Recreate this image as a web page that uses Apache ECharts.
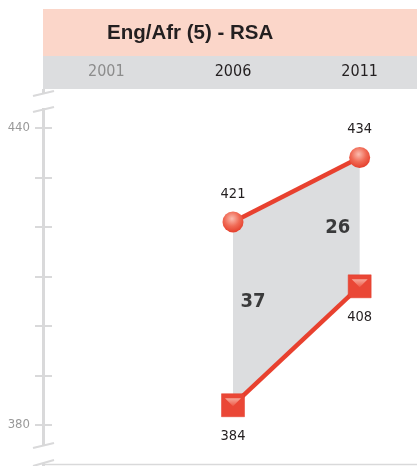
<!DOCTYPE html>
<html>
<head>
<meta charset="utf-8">
<script src="https://cdn.jsdelivr.net/npm/echarts@6/dist/echarts.min.js"></script>
<style>
html,body{margin:0;padding:0;background:#fff;overflow:hidden;width:417px;height:466px;}
#chart{width:423px;height:475px;}
</style>
</head>
<body>
<div id="chart"></div>
<script>
// ---- data ----
const title = 'Eng/Afr (5) - RSA';
const categories = ['2001', '2006', '2011'];
const topValues = [null, 421, 434];     // circles
const bottomValues = [null, 384, 408];  // squares
const yLabelValues = [380, 440];

// ---- derived ----
const gapValues = topValues.map((v, i) => (v == null || bottomValues[i] == null) ? null : v - bottomValues[i]);
const gapLabelPoints = [];
gapValues.forEach((g, i) => {
  if (g != null) gapLabelPoints.push([i, (topValues[i] + bottomValues[i]) / 2, g]);
});

const narrow = "'DejaVu Sans Condensed', 'Liberation Sans', sans-serif";
const dark = '#231f20';
const red = '#e8412f';
const axisGray = '#d9d9da';

const chart = echarts.init(document.getElementById('chart'), null, {renderer: 'canvas'});

const circleFill = {
  type: 'radial', x: 0.45, y: 0.35, r: 0.65,
  colorStops: [{offset: 0, color: '#fbbcaf'}, {offset: 0.55, color: '#f06a55'}, {offset: 1, color: '#e53f2c'}]
};
const triFill = {
  type: 'linear', x: 0, y: 0, x2: 0, y2: 1,
  colorStops: [{offset: 0, color: '#f9c0b3'}, {offset: 1, color: '#ef5c49'}]
};

const gapLabelOffsets = [[20, -12], [-22, 6]];

chart.setOption({
  animation: false,
  title: {
    text: title, left: 107, top: 22, padding: 0, z: 10,
    textStyle: {fontFamily: "'Liberation Sans', Arial, sans-serif", fontWeight: 'bold', fontSize: 20.5, lineHeight: 22, color: dark}
  },
  grid: {left: 43, right: 0, top: 78.2, bottom: 0.4},
  xAxis: {
    type: 'category', data: categories, position: 'top', boundaryGap: true, z: 10,
    axisLine: {show: false}, axisTick: {show: false}, splitLine: {show: false},
    axisLabel: {
      margin: 6, verticalAlign: 'middle', fontFamily: narrow, fontSize: 16,
      color: (v, i) => (i === 0 ? '#8c8c8c' : dark)
    }
  },
  yAxis: [
    {
      type: 'value', min: 370, max: 450, interval: 10, position: 'left', z: 0,
      axisLine: {show: true, lineStyle: {color: axisGray, width: 3}},
      axisTick: {show: true, inside: false, length: 8, lineStyle: {color: axisGray, width: 2}},
      splitLine: {show: false},
      axisLabel: {
        margin: 13, fontFamily: narrow, fontSize: 13, color: '#999999',
        formatter: v => (yLabelValues.indexOf(v) >= 0 ? String(v) : '')
      }
    },
    {
      type: 'value', min: 370, max: 450, interval: 10, position: 'left', z: 0,
      axisLine: {show: false},
      axisTick: {show: true, inside: true, length: 9, lineStyle: {color: axisGray, width: 2}},
      splitLine: {show: false},
      axisLabel: {show: false}
    }
  ],
  graphic: [
    // hide axis parts above the plot area
    {type: 'rect', z: 1, shape: {x: 26, y: 60, width: 18, height: 29}, style: {fill: '#fff'}},
    {type: 'rect', z: 3, shape: {x: 43, y: 9, width: 380, height: 47}, style: {fill: '#fbd6c9'}},
    {type: 'rect', z: 3, shape: {x: 43, y: 56, width: 380, height: 33}, style: {fill: '#dcdddf'}},
    // axis break gaps
    {type: 'rect', z: 1, shape: {x: 30, y: 94, width: 26, height: 14}, style: {fill: '#fff'}},
    {type: 'rect', z: 1, shape: {x: 30, y: 446, width: 26, height: 17}, style: {fill: '#fff'}},
    {type: 'line', z: 2, shape: {x1: 33, y1: 96, x2: 54, y2: 91}, style: {stroke: axisGray, lineWidth: 2}},
    {type: 'line', z: 2, shape: {x1: 33, y1: 112, x2: 54, y2: 107}, style: {stroke: axisGray, lineWidth: 2}},
    {type: 'line', z: 2, shape: {x1: 33, y1: 448, x2: 54, y2: 443}, style: {stroke: axisGray, lineWidth: 2}},
    {type: 'line', z: 2, shape: {x1: 33, y1: 466, x2: 54, y2: 460}, style: {stroke: axisGray, lineWidth: 2}},
    {type: 'line', z: 2, shape: {x1: 43, y1: 464.5, x2: 423, y2: 464.5}, style: {stroke: axisGray, lineWidth: 1.5}}
  ],
  series: [
    {
      name: 'base', type: 'line', stack: 'gap', data: bottomValues, symbol: 'none',
      lineStyle: {opacity: 0}, silent: true, z: 1
    },
    {
      name: 'gap', type: 'line', stack: 'gap', data: gapValues, symbol: 'none',
      lineStyle: {opacity: 0}, areaStyle: {color: '#dcdddf', opacity: 1}, silent: true, z: 1
    },
    {
      name: 'top', type: 'line', data: topValues, z: 3,
      symbol: 'circle', symbolSize: 21,
      lineStyle: {color: red, width: 4.5},
      itemStyle: {color: circleFill, borderWidth: 0},
      label: {show: true, position: 'top', distance: 10, fontFamily: narrow, fontSize: 14.5, color: dark}
    },
    {
      name: 'bottom', type: 'line', data: bottomValues, z: 3,
      symbol: 'rect', symbolSize: 23,
      lineStyle: {color: red, width: 4.5},
      itemStyle: {color: '#ea4736', borderColor: '#e23a28', borderWidth: 0.5},
      label: {show: true, position: 'bottom', distance: 12, fontFamily: narrow, fontSize: 14.5, color: dark}
    },
    {
      name: 'bevel', type: 'scatter', data: bottomValues, z: 4, silent: true,
      symbol: 'path://M0,0L16,0L8,8Z', symbolSize: [16, 8], symbolOffset: [0, -3],
      itemStyle: {color: triFill}
    },
    {
      name: 'gapLabels', type: 'scatter', data: gapLabelPoints, z: 5, silent: true,
      symbolSize: 0,
      label: {
        show: true, position: 'inside',
        formatter: p => String(p.value[2]),
        fontFamily: narrow, fontWeight: 'bold', fontSize: 20, color: '#111'
      },
      labelLayout: (params) => {
        const o = gapLabelOffsets[params.dataIndex] || [0, 0];
        return {dx: o[0], dy: o[1]};
      }
    }
  ]
});
</script>
</body>
</html>
